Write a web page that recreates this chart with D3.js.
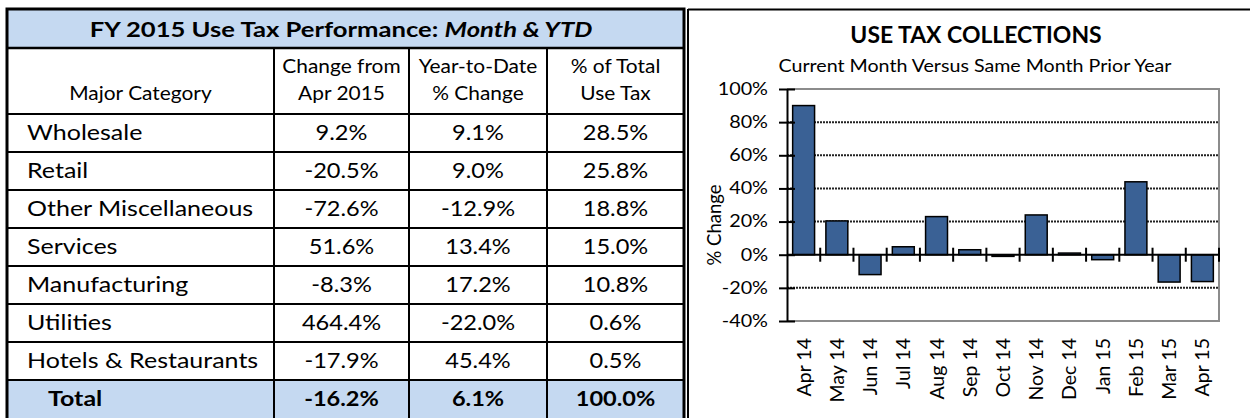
<!DOCTYPE html>
<html>
<head>
<meta charset="utf-8">
<script src="https://cdn.jsdelivr.net/npm/d3@7"></script>
<style>
  body { margin: 0; background: #fff; }
  svg { display: block; font-family: Lato, "Open Sans", sans-serif; }
</style>
</head>
<body>
<div id="chart"></div>
<script>
// table data
const categories = ["Wholesale", "Retail", "Other Miscellaneous", "Services", "Manufacturing", "Utilities", "Hotels & Restaurants"];
const monthChange = [9.2, -20.5, -72.6, 51.6, -8.3, 464.4, -17.9];
const ytdChange = [9.1, 9.0, -12.9, 13.4, 17.2, -22.0, 45.4];
const shareOfTotal = [28.5, 25.8, 18.8, 15.0, 10.8, 0.6, 0.5];
const totalRow = [-16.2, 6.1, 100.0];
const headerLines = [["Change from", "Apr 2015"], ["Year-to-Date", "% Change"], ["% of Total", "Use Tax"]];

// chart data
const months = ["Apr 14", "May 14", "Jun 14", "Jul 14", "Aug 14", "Sep 14", "Oct 14", "Nov 14", "Dec 14", "Jan 15", "Feb 15", "Mar 15", "Apr 15"];
const collections = [90.0, 20.4, -12.0, 4.8, 23.0, 3.0, -1.0, 24.0, 1.0, -3.0, 44.0, -16.5, -16.2];
const yTicks = [-40, -20, 0, 20, 40, 60, 80, 100];

const W = 1250, H = 418;
const svg = d3.select("#chart").append("svg").attr("width", W).attr("height", H);

// plain hyphen for negatives, like the source
const locale = d3.formatLocale({ decimal: ".", thousands: ",", grouping: [3], currency: ["$", ""], minus: "-" });
const fmt = (v) => locale.format(".1f")(v) + "%";
const blue = "#c5d9f1";

// text with a slight horizontal stretch, like the source picture
function label(g, x, y, s, size, sx) {
  return g.append("text")
    .attr("transform", `translate(${x},${y}) scale(${sx},1)`)
    .attr("font-size", size)
    .text(s);
}

// ---------- table ----------
const tbl = { left: 7, right: 684, top: 9, titleH: 39, headH: 66, rowH: 38 };
const colX = [tbl.left, 274, 409, 547, tbl.right];
const bodyTop = tbl.top + tbl.titleH + tbl.headH;
const rows = categories.map((c, i) => ({ name: c, vals: [monthChange[i], ytdChange[i], shareOfTotal[i]] }));
rows.push({ name: "Total", vals: totalRow, total: true });

const t = svg.append("g");
t.append("rect").attr("x", tbl.left).attr("y", tbl.top).attr("width", tbl.right - tbl.left).attr("height", tbl.titleH).attr("fill", blue);
t.append("rect")
  .attr("x", tbl.left)
  .attr("y", bodyTop + tbl.rowH * (rows.length - 1))
  .attr("width", tbl.right - tbl.left)
  .attr("height", tbl.rowH + 10)
  .attr("fill", blue);

const title = label(t, 341, tbl.top + 28, null, 20.5, 1.25)
  .attr("text-anchor", "middle")
  .attr("font-weight", "bold");
title.append("tspan").text("FY 2015 Use Tax Performance:  ");
title.append("tspan").attr("font-style", "italic").text("Month & YTD");

const hy = tbl.top + tbl.titleH;
label(t, (colX[0] + colX[1]) / 2, hy + 52, "Major Category", 19, 1.1).attr("text-anchor", "middle");
headerLines.forEach((lines, j) => {
  lines.forEach((s, k) => {
    label(t, (colX[j + 1] + colX[j + 2]) / 2, hy + 25 + k * 27, s, 19, 1.1).attr("text-anchor", "middle");
  });
});

rows.forEach((r, i) => {
  const y0 = bodyTop + i * tbl.rowH;
  label(t, r.total ? 48 : 27, y0 + 26, r.name, 20.5, 1.22).attr("font-weight", r.total ? "bold" : null);
  r.vals.forEach((v, j) => {
    label(t, (colX[j + 1] + colX[j + 2]) / 2, y0 + 26, fmt(v), 20.5, 1.15)
      .attr("text-anchor", "middle")
      .attr("font-weight", r.total ? "bold" : null);
  });
});

// grid lines of the table
const lineG = t.append("g").attr("stroke", "#000");
d3.range(rows.length).forEach((i) => {
  lineG.append("line")
    .attr("x1", tbl.left).attr("x2", tbl.right)
    .attr("y1", bodyTop + i * tbl.rowH).attr("y2", bodyTop + i * tbl.rowH)
    .attr("stroke-width", 2);
});
lineG.append("line")
  .attr("x1", tbl.left).attr("x2", tbl.right)
  .attr("y1", hy).attr("y2", hy)
  .attr("stroke-width", 2.5);
colX.slice(1, 4).forEach((x) => {
  lineG.append("line").attr("x1", x).attr("x2", x).attr("y1", hy).attr("y2", H + 5).attr("stroke-width", 2);
});
lineG.append("rect")
  .attr("x", tbl.left).attr("y", tbl.top)
  .attr("width", tbl.right - tbl.left).attr("height", H)
  .attr("fill", "none").attr("stroke-width", 3);

// ---------- chart panel ----------
const panel = svg.append("g");
panel.append("line").attr("x1", 688).attr("x2", W).attr("y1", 9.5).attr("y2", 9.5).attr("stroke", "#000").attr("stroke-width", 2);
panel.append("line").attr("x1", 688).attr("x2", 688).attr("y1", 9).attr("y2", H).attr("stroke", "#000").attr("stroke-width", 2);

const plot = { left: 787, right: 1219, top: 89, bottom: 321 };

label(panel, 976, 43, "USE TAX COLLECTIONS", 22.5, 1.02).attr("text-anchor", "middle").attr("font-weight", "bold");
label(panel, 975, 72, "Current Month Versus Same Month Prior Year", 16.5, 1.19).attr("text-anchor", "middle");

const x = d3.scaleBand().domain(months).range([plot.left, plot.right]).paddingInner(0.34).paddingOuter(0.17);
const y = d3.scaleLinear().domain([-40, 100]).range([plot.bottom, plot.top]);

// dotted gridlines
panel.append("g")
  .selectAll("line")
  .data(yTicks.filter((d) => d !== 0 && d !== -40 && d !== 100))
  .join("line")
  .attr("x1", plot.left).attr("x2", plot.right)
  .attr("y1", (d) => y(d)).attr("y2", (d) => y(d))
  .attr("stroke", "#222")
  .attr("stroke-width", 2)
  .attr("stroke-dasharray", "2,1");

// plot border (top, right, bottom)
panel.append("path")
  .attr("d", `M${plot.left},${y(100)}H${plot.right}V${y(-40)}H${plot.left}`)
  .attr("fill", "none")
  .attr("stroke", "#8c8c8c")
  .attr("stroke-width", 2);

// bars
panel.append("g")
  .selectAll("rect")
  .data(months.map((m, i) => ({ m: m, v: collections[i] })))
  .join("rect")
  .attr("x", (d) => x(d.m))
  .attr("width", x.bandwidth())
  .attr("y", (d) => y(Math.max(0, d.v)))
  .attr("height", (d) => Math.abs(y(d.v) - y(0)))
  .attr("fill", "#3a6195")
  .attr("stroke", "#000")
  .attr("stroke-width", 1.5);

// zero line with category tick marks
const step = x.step();
panel.append("line")
  .attr("x1", plot.left).attr("x2", plot.right)
  .attr("y1", y(0)).attr("y2", y(0))
  .attr("stroke", "#000").attr("stroke-width", 2);
panel.append("g")
  .selectAll("line")
  .data(months)
  .join("line")
  .attr("x1", (d) => x(d) - x.paddingInner() * step / 2 + step)
  .attr("x2", (d) => x(d) - x.paddingInner() * step / 2 + step)
  .attr("y1", y(0) - 7).attr("y2", y(0) + 7)
  .attr("stroke", "#000").attr("stroke-width", 2);

// y axis
const yAxis = panel.append("g")
  .attr("transform", `translate(${plot.left},0)`)
  .call(d3.axisLeft(y).tickValues(yTicks).tickFormat((d) => d + "%").tickSizeInner(8).tickSizeOuter(0).tickPadding(11));
yAxis.select(".domain").attr("stroke", "#000").attr("stroke-width", 2);
yAxis.selectAll(".tick line").attr("x1", 8).attr("stroke", "#000").attr("stroke-width", 2);
yAxis.selectAll(".tick text")
  .attr("x", null)
  .attr("transform", "translate(-19,0) scale(1.2,1)")
  .attr("font-size", 16.5)
  .attr("font-family", "Lato, sans-serif")
  .attr("fill", "#000");

panel.append("text")
  .attr("transform", `translate(721,225) rotate(-90)`)
  .attr("text-anchor", "middle")
  .attr("font-size", 18.5)
  .text("% Change");

// x labels
panel.append("g")
  .selectAll("text")
  .data(months)
  .join("text")
  .attr("transform", (d) => `translate(${x(d) + x.bandwidth() / 2 + 7},${plot.bottom + 17}) rotate(-90)`)
  .attr("text-anchor", "end")
  .attr("font-size", 19.5)
  .text((d) => d);
</script>
</body>
</html>
